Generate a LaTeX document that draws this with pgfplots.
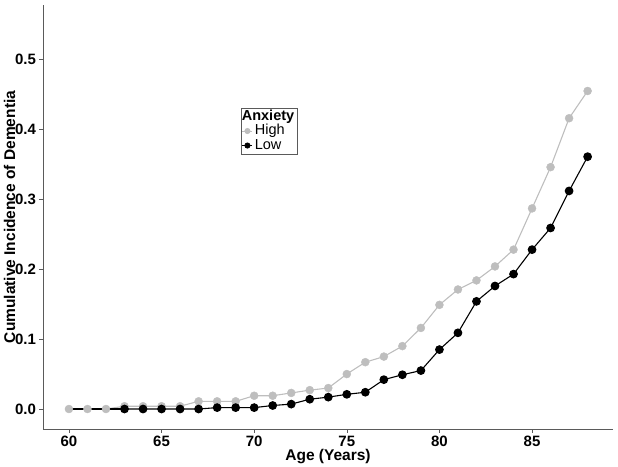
\documentclass[border=0pt]{standalone}
\usepackage{fontspec}
\setmainfont{Liberation Sans}
\usepackage{pgfplots}
\pgfplotsset{compat=1.18}
\definecolor{highgray}{RGB}{190,190,190}
\definecolor{axisgray}{RGB}{90,90,90}

\pgfplotstableread{
age  inc
60   0.000
61   0.000
62   0.000
63   0.004
64   0.004
65   0.004
66   0.004
67   0.011
68   0.011
69   0.011
70   0.019
71   0.019
72   0.023
73   0.027
74   0.030
75   0.050
76   0.067
77   0.075
78   0.090
79   0.116
80   0.149
81   0.171
82   0.184
83   0.204
84   0.228
85   0.287
86   0.346
87   0.416
88   0.455
}\highdata

\pgfplotstableread{
age  inc
63   0.000
64   0.000
65   0.000
66   0.000
67   0.000
68   0.002
69   0.002
70   0.002
71   0.005
72   0.007
73   0.014
74   0.017
75   0.021
76   0.024
77   0.042
78   0.049
79   0.055
80   0.085
81   0.109
82   0.154
83   0.176
84   0.193
85   0.228
86   0.259
87   0.312
88   0.361
}\lowdata

\begin{document}
\begin{tikzpicture}[x=1pt,y=1pt]
\begin{axis}[
  at={(0,0)}, anchor=south west,
  scale only axis, width=570pt, height=424pt,
  xmin=58.6, xmax=89.37, ymin=-0.0286, ymax=0.578,
  axis lines=left,
  axis line style={axisgray, line width=0.7pt, -},
  xtick={60,65,...,85},
  ytick={0,0.1,0.2,0.3,0.4,0.5},
  tick align=outside, major tick length=3.5pt,
  tick style={axisgray, line width=0.6pt},
  /pgf/number format/assume math mode=true,
  yticklabel style={/pgf/number format/.cd, fixed, fixed zerofill, precision=1},
  tick label style={font=\fontsize{15}{17}\selectfont\bfseries},
  label style={font=\fontsize{15.5}{17}\selectfont\bfseries},
  xlabel={Age (Years)},
  ylabel={Cumulative Incidence of Dementia},
  xlabel style={yshift=4pt},
  ylabel style={yshift=-7pt},
  legend style={at={(rel axis cs:0.347,0.757)}, anchor=north west,
    draw=axisgray, line width=0.5pt, inner sep=1pt, row sep=0pt,
    font=\fontsize{14.5}{16}\selectfont,
    nodes={text height=11pt, text depth=3.5pt, inner ysep=0pt}},
  legend cell align=left,
  legend image code/.code={\draw[mark repeat=2,mark phase=2]
    plot coordinates {(0pt,0pt)(5pt,0pt)(10pt,0pt)};},
]
% lines first, points on top
\addplot[forget plot, highgray, line width=1.1pt] table[x=age,y=inc] {\highdata};
\addplot[forget plot, black, line width=1.1pt] coordinates {(60,0) (63,0)};
\addplot[forget plot, only marks, mark=*, mark size=4pt, highgray] table[x=age,y=inc] {\highdata};
\addplot[forget plot, black, line width=1.1pt, mark=*, mark size=3.8pt] table[x=age,y=inc] {\lowdata};

\addlegendimage{empty legend}
\addlegendentry{\hspace*{-13pt}\textbf{Anxiety}}
\addlegendimage{highgray, line width=0.8pt, mark=*, mark size=2.6pt}
\addlegendentry{High}
\addlegendimage{black, line width=0.8pt, mark=*, mark size=2.6pt}
\addlegendentry{Low}
\end{axis}
\pgfresetboundingbox
\useasboundingbox (-43,-37) rectangle (575,429);
\end{tikzpicture}
\end{document}
